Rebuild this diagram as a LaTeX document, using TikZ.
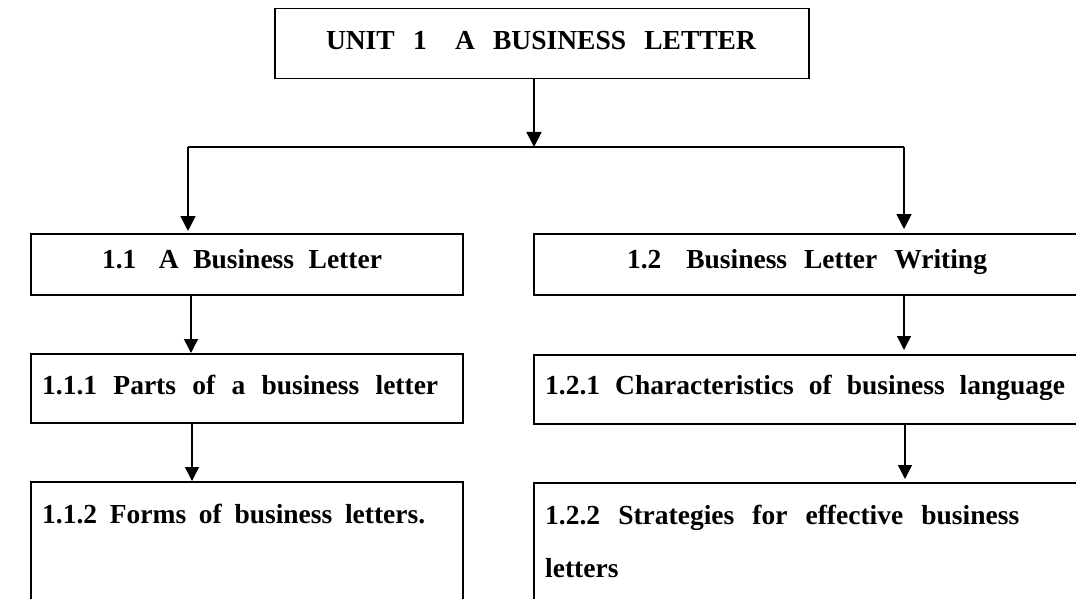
\documentclass[tikz,border=0pt]{standalone}
\usepackage{fontspec}
\setmainfont{Liberation Serif}
\usetikzlibrary{arrows.meta}
\begin{document}
\begin{tikzpicture}[x=1pt,y=-1pt,
  box/.style={draw, line width=1.5pt, anchor=north west, inner sep=0pt},
  lbl/.style={inner sep=0pt, font=\fontsize{27.5}{33}\selectfont\bfseries},
  link/.style={line width=1.8pt},
  arr/.style={line width=1.8pt, -{Triangle[width=15pt,length=15pt]}},
  arrs/.style={line width=1.4pt, -{Triangle[width=14pt,length=14pt]}}]
\useasboundingbox (0,0) rectangle (1076,599);
% boxes
\node[box, minimum width=534pt, minimum height=70pt] (top) at (274,8) {};
\node[box, minimum width=432pt, minimum height=61pt] (b11) at (30,233) {};
\node[box, minimum width=550pt, minimum height=61pt] (b12) at (533,233) {};
\node[box, minimum width=432pt, minimum height=69pt] (b111) at (30,353) {};
\node[box, minimum width=550pt, minimum height=69pt] (b121) at (533,354) {};
\node[box, minimum width=432pt, minimum height=130pt] (b112) at (30,481) {};
\node[box, minimum width=550pt, minimum height=130pt] (b122) at (533,482) {};
% labels
\node[lbl, anchor=base] (t0) at (541,50) {\makebox[430pt][s]{UNIT 1\hspace{10pt} A BUSINESS LETTER}};
\node[lbl, anchor=base] (t11) at (242,268) {\makebox[280pt][s]{1.1\hspace{8pt} A Business Letter}};
\node[lbl, anchor=base] (t12) at (807,268) {\makebox[360pt][s]{1.2\hspace{8pt} Business Letter Writing}};
\node[lbl, anchor=base west] (t111) at (42,394) {\makebox[396pt][s]{1.1.1 Parts of a business letter}};
\node[lbl, anchor=base west] (t121) at (545,394) {\makebox[520pt][s]{1.2.1 Characteristics of business language}};
\node[lbl, anchor=base west] (t112) at (42,523) {\makebox[383pt][s]{1.1.2 Forms of business letters.}};
\node[lbl, anchor=base west] (t122) at (545,524) {\makebox[474pt][s]{1.2.2 Strategies for effective business}};
\node[lbl, anchor=base west] (t122b) at (545,577) {letters};
% connectors
\coordinate (split) at (534,147);
\coordinate (lft) at (188,147);
\coordinate (rgt) at (904,147);
\draw[arr] (top.south -| split) -- (split);
\draw[link] (lft) -- (rgt);
\draw[arr, shorten >=2pt] (lft) -- (lft |- b11.north);
\draw[arr, shorten >=4pt] (rgt) -- (rgt |- b12.north);
\draw[arrs] (b11.south -| 191,0) -- (b111.north -| 191,0);
\draw[arrs, shorten >=4pt] (b12.south -| 904,0) -- (b121.north -| 904,0);
\draw[arrs] (b111.south -| 192,0) -- (b112.north -| 192,0);
\draw[arrs, shorten >=3pt] (b121.south -| 905,0) -- (b122.north -| 905,0);
\end{tikzpicture}
\end{document}
